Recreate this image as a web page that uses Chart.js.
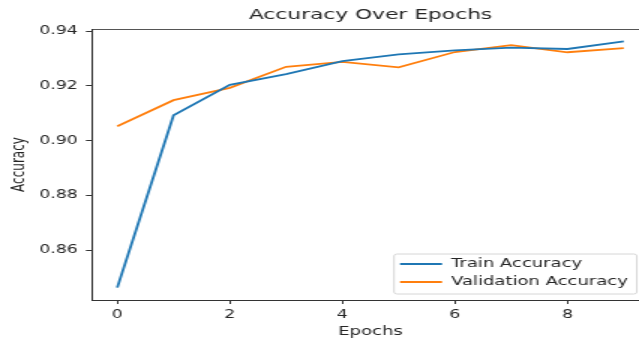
<!DOCTYPE html>
<html>
<head>
<meta charset="utf-8">
<script src="https://cdn.jsdelivr.net/npm/chart.js@4/dist/chart.umd.min.js"></script>
<style>
  html, body { margin: 0; padding: 0; background: #fff; overflow: hidden; width: 639px; height: 339px; }
  /* the reference image is stretched sideways, so the whole chart is drawn narrow and widened */
  #wrap { transform: scaleX(1.5); transform-origin: 0 0; width: 440px; height: 339px; }
</style>
</head>
<body>
<div id="wrap"><canvas id="accChart" width="440" height="339"></canvas></div>
<script>
const epochs = [0, 1, 2, 3, 4, 5, 6, 7, 8, 9];
const trainAcc = [0.8463, 0.9093, 0.9204, 0.9243, 0.9291, 0.9315, 0.9330, 0.9340, 0.9335, 0.9363];
const valAcc = [0.9053, 0.9148, 0.9193, 0.9270, 0.9288, 0.9268, 0.9324, 0.9349, 0.9323, 0.9338];
const xTicks = [0, 2, 4, 6, 8];
const yTicks = [0.86, 0.88, 0.90, 0.92, 0.94];

const textColor = '#262626';
const FONT = "'DejaVu Sans', sans-serif";

function toPoints(values) {
    return epochs.map((e, i) => ({x: e, y: values[i]}));
}

// top spine + lower-right legend with a frame like matplotlib
const framePlugin = {
    id: 'frame',
    afterLayout(chart) {
        const lg = chart.legend, ca = chart.chartArea;
        if (!lg) return;
        lg.left = ca.right - 172;
        lg.right = lg.left + lg.width;
        lg.bottom = ca.bottom - 6;
        lg.top = lg.bottom - lg.height;
    },
    beforeDraw(chart) {
        const ctx = chart.ctx, ca = chart.chartArea;
        ctx.save();
        ctx.strokeStyle = '#555';
        ctx.lineWidth = 1;
        ctx.beginPath();
        ctx.moveTo(ca.left, ca.top + 0.5);
        ctx.lineTo(ca.right, ca.top + 0.5);
        ctx.stroke();

        const boxes = chart.legend.legendHitBoxes;
        if (boxes && boxes.length) {
            const l = boxes[0].left - 4;
            const t = boxes[0].top - 4;
            const last = boxes[boxes.length - 1];
            const r = Math.max(...boxes.map(b => b.left + b.width)) + 6;
            const b = last.top + last.height + 6;
            ctx.beginPath();
            ctx.roundRect(l, t, r - l, b - t, 2);
            ctx.fillStyle = 'rgba(255,255,255,0.8)';
            ctx.fill();
            ctx.strokeStyle = '#d6d6d6';
            ctx.stroke();
        }
        ctx.restore();
    }
};

new Chart(document.getElementById('accChart'), {
    type: 'line',
    data: {
        datasets: [{
            label: 'Train Accuracy',
            data: toPoints(trainAcc),
            borderColor: '#1f77b4',
            backgroundColor: '#1f77b4',
            borderWidth: 1.8,
            pointRadius: 0,
            tension: 0
        }, {
            label: 'Validation Accuracy',
            data: toPoints(valAcc),
            borderColor: '#ff7f0e',
            backgroundColor: '#ff7f0e',
            borderWidth: 1.8,
            pointRadius: 0,
            tension: 0
        }]
    },
    options: {
        responsive: false,
        animation: false,
        devicePixelRatio: 1,
        layout: { padding: { left: 0, right: 7.3, top: 0, bottom: 0 } },
        plugins: {
            title: {
                display: true,
                text: 'Accuracy Over Epochs',
                fullSize: false,
                color: textColor,
                font: { family: FONT, size: 14.5, weight: 'normal' },
                padding: { top: 6.8, bottom: 4.8 }
            },
            legend: {
                position: 'chartArea',
                align: 'end',
                labels: {
                    usePointStyle: true,
                    pointStyle: 'line',
                    pointStyleWidth: 28,
                    padding: 6,
                    color: textColor,
                    font: { family: FONT, size: 12 }
                }
            },
            tooltip: { enabled: false }
        },
        scales: {
            x: {
                type: 'linear',
                min: -0.45,
                max: 9.45,
                afterFit: s => { s.height = 39; },
                afterBuildTicks: s => { s.ticks = xTicks.map(v => ({value: v})); },
                grid: { drawOnChartArea: false, drawTicks: true, tickLength: 4, tickColor: '#333' },
                border: { color: '#333', width: 1 },
                ticks: {
                    color: textColor,
                    padding: 4,
                    maxRotation: 0,
                    font: { family: FONT, size: 11.5 }
                },
                title: {
                    display: true,
                    text: 'Epochs',
                    color: textColor,
                    font: { family: FONT, size: 12 },
                    padding: { top: 0, bottom: 0.3 }
                }
            },
            y: {
                min: 0.8418,
                max: 0.9408,
                afterFit: s => { s.width = 61.3; },
                afterBuildTicks: s => { s.ticks = yTicks.map(v => ({value: v})); },
                grid: { drawOnChartArea: false, drawTicks: true, tickLength: 4, tickColor: '#333' },
                border: { color: '#333', width: 1 },
                ticks: {
                    color: textColor,
                    padding: 5.5,
                    font: { family: FONT, size: 11.5 },
                    callback: v => v.toFixed(2)
                },
                title: {
                    display: true,
                    text: 'Accuracy',
                    color: textColor,
                    font: { family: FONT, size: 12 },
                    padding: { top: 5.5, bottom: 0 }
                }
            }
        }
    },
    plugins: [framePlugin]
});
</script>
</body>
</html>
